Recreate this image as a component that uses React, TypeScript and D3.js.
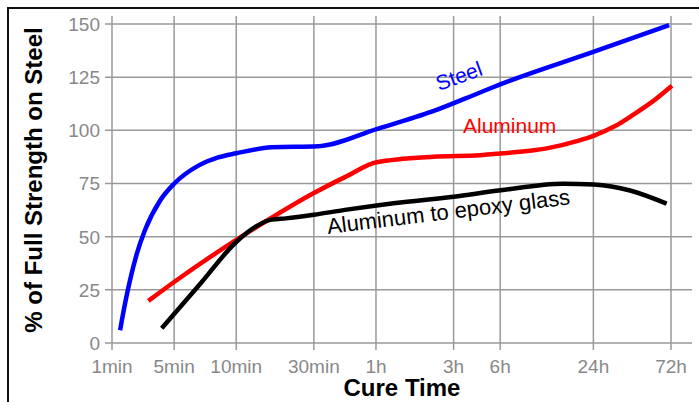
import React from "react";
import * as d3 from "d3";

// Axis ticks (x positions are in axis units along the cure-time axis)
const X_TICK_LABELS = ["1min", "5min", "10min", "30min", "1h", "3h", "6h", "24h", "72h"];
const X_TICK_POS = [0, 2, 4, 6.5, 8.5, 11, 12.5, 15.5, 18];
const Y_TICKS = [0, 25, 50, 75, 100, 125, 150];

// Steel
const steelX = [0.26, 0.42, 0.58, 0.8, 1.06, 1.55, 2.0, 2.78, 3.42, 4.0, 5.14, 6.64, 8.52, 10.34, 11.85, 12.52, 15.52, 17.94];
const steelY = [6, 18.6, 29.5, 42, 53, 67, 74.9, 83.4, 87.3, 89.2, 92, 92.5, 100.6, 109, 117.8, 121.7, 137, 149.5];

// Aluminum
const aluX = [1.17, 2.0, 4.0, 5.14, 6.5, 7.5, 8.52, 10.35, 11.85, 12.49, 14.0, 15.0, 15.52, 16.2, 16.8, 17.4, 18.03];
const aluY = [19.8, 28.7, 48.5, 58.9, 70.5, 78, 85, 87.6, 88.3, 89.1, 91.5, 95, 97.5, 102, 107.5, 113.5, 121];

// Aluminum to epoxy glass
const epoX = [1.6, 2.83, 4.0, 4.6, 5.14, 5.6, 6.5, 7.5, 8.52, 11.0, 12.52, 14.52, 15.52, 16.68, 17.86];
const epoY = [6.9, 27.6, 47.5, 54.5, 58, 58.6, 60.3, 62.6, 64.7, 68.8, 71.8, 74.9, 74.5, 71.7, 65.5];

const FONT = "'Liberation Sans', Arial, Helvetica, sans-serif";

export default function App() {
  const x = d3.scaleLinear().domain([0, 18]).range([112, 671]);
  const y = d3.scaleLinear().domain([0, 150]).range([343, 24]);
  const plotLeft = 112;
  const plotRight = 692;
  const plotTop = 16;
  const plotBottom = 343;
  const tick = 7;

  const line = d3
    .line<[number, number]>()
    .x((d) => x(d[0]))
    .y((d) => y(d[1]))
    .curve(d3.curveMonotoneX);

  const series = [
    { xs: steelX, ys: steelY, color: "#0000ff" },
    { xs: aluX, ys: aluY, color: "#ff0000" },
    { xs: epoX, ys: epoY, color: "#000000" },
  ];

  return (
    <svg
      width={699}
      height={402}
      style={{ position: "absolute", left: 0, top: 0, display: "block", background: "#fff" }}
      fontFamily={FONT}
    >
      <rect x={0} y={0} width={699} height={402} fill="#fff" />
      {/* frame */}
      <rect x={8} y={8} width={900} height={900} fill="none" stroke="#111" strokeWidth={2} />

      {/* horizontal grid */}
      {Y_TICKS.map((t) => (
        <line
          key={"h" + t}
          x1={plotLeft - tick}
          x2={plotRight}
          y1={y(t)}
          y2={y(t)}
          stroke="#999"
          strokeWidth={1.5}
        />
      ))}
      {/* vertical grid */}
      {X_TICK_POS.map((p, i) => (
        <line
          key={"v" + i}
          x1={x(p)}
          x2={x(p)}
          y1={plotTop}
          y2={plotBottom + tick}
          stroke="#999"
          strokeWidth={1.5}
        />
      ))}

      {/* y tick labels */}
      {Y_TICKS.map((t) => (
        <text
          key={"yl" + t}
          x={100}
          y={y(t)}
          dy="0.36em"
          textAnchor="end"
          fontSize={19}
          fill="#888"
        >
          {t}
        </text>
      ))}
      {/* x tick labels */}
      {X_TICK_POS.map((p, i) => (
        <text key={"xl" + i} x={x(p)} y={373} textAnchor="middle" fontSize={19} fill="#888">
          {X_TICK_LABELS[i]}
        </text>
      ))}

      {/* series */}
      {series.map((s, i) => (
        <path
          key={"s" + i}
          d={line(s.xs.map((v, j) => [v, s.ys[j]] as [number, number])) || ""}
          fill="none"
          stroke={s.color}
          strokeWidth={4.5}
          strokeLinecap="butt"
          strokeLinejoin="round"
        />
      ))}

      {/* series labels */}
      <text x={439} y={91} transform="rotate(-20 439 91)" fontSize={21} fill="#0000ff">
        Steel
      </text>
      <text x={463} y={133} fontSize={21} fill="#ff0000">
        Aluminum
      </text>
      <text x={328} y={234} transform="rotate(-7 328 234)" fontSize={22} fill="#000">
        Aluminum to epoxy glass
      </text>

      {/* axis titles */}
      <text x={402} y={396} textAnchor="middle" fontSize={24} fontWeight="bold" fill="#000">
        Cure Time
      </text>
      <text
        x={0}
        y={0}
        transform="translate(42 180) rotate(-90)"
        textAnchor="middle"
        fontSize={24}
        fontWeight="bold"
        fill="#000"
      >
        % of Full Strength on Steel
      </text>
    </svg>
  );
}
